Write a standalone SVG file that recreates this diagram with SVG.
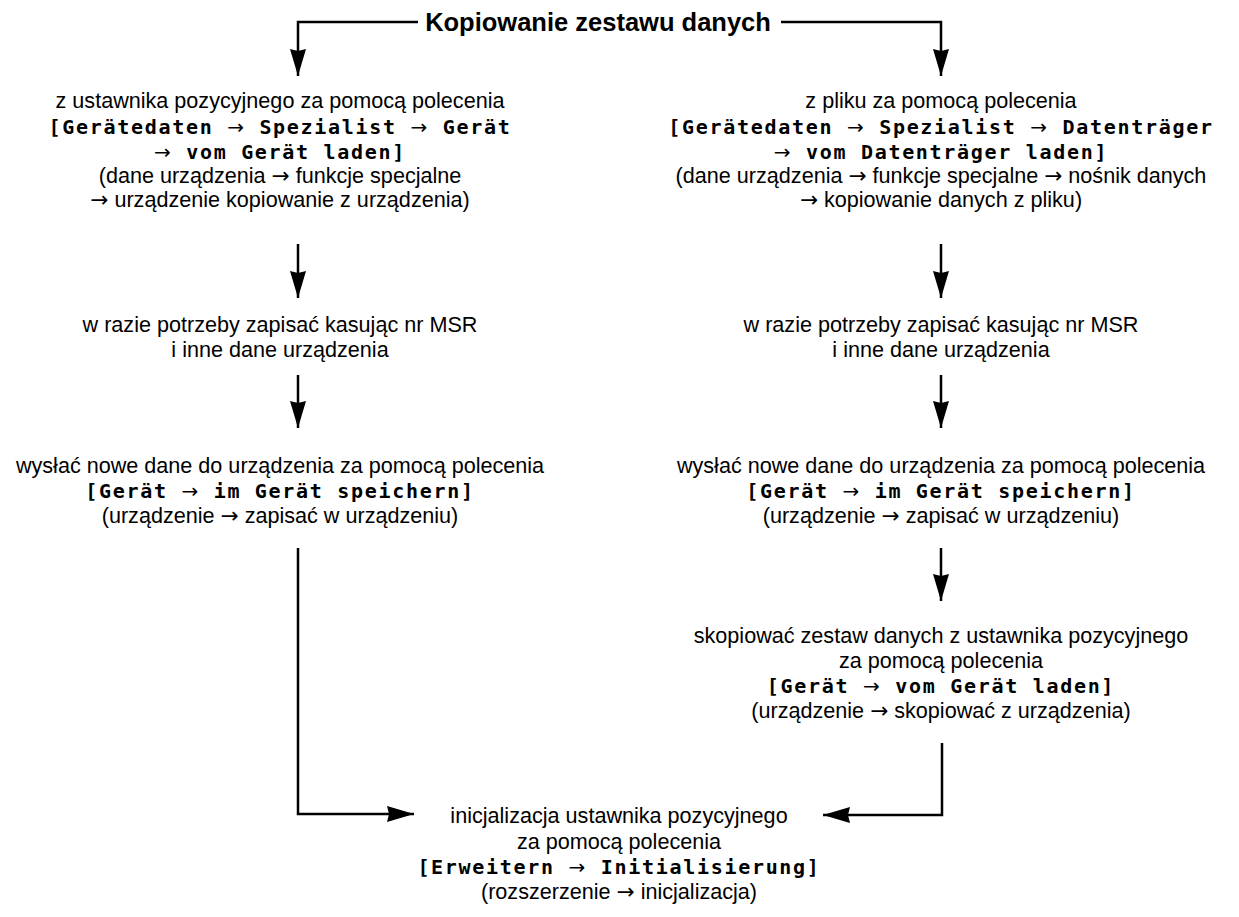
<svg xmlns="http://www.w3.org/2000/svg" width="1239" height="917" viewBox="0 0 1239 917">
<style>
.t{font-family:"Liberation Sans",Arial,sans-serif;font-size:21.6px;fill:#000;text-anchor:middle}
.b{font-family:"Liberation Sans",Arial,sans-serif;font-size:25.5px;font-weight:bold;fill:#000;text-anchor:middle}
.m{font-family:"DejaVu Sans Mono","Liberation Mono",monospace;font-size:20px;font-weight:bold;letter-spacing:1.7px;fill:#000;text-anchor:middle}
.a{font-family:"DejaVu Sans",sans-serif;font-weight:normal}
.c{fill:none;stroke:#000;stroke-width:2.5}
</style>
<defs>
<marker id="ah" markerWidth="27" markerHeight="18" refX="27" refY="9" orient="auto" markerUnits="userSpaceOnUse">
<path d="M0,1 L27,9 L0,17 L2,9 Z" fill="#000"/>
</marker>
</defs>
<rect width="1239" height="917" fill="#fff"/>
<g id="connectors">
<path class="c" d="M418,22 H298 V76" marker-end="url(#ah)"/>
<path class="c" d="M781,22 H941 V76" marker-end="url(#ah)"/>
<path class="c" d="M298,244 V298" marker-end="url(#ah)"/>
<path class="c" d="M941,244 V298" marker-end="url(#ah)"/>
<path class="c" d="M298,375 V428" marker-end="url(#ah)"/>
<path class="c" d="M941,375 V428" marker-end="url(#ah)"/>
<path class="c" d="M941,548 V601" marker-end="url(#ah)"/>
<path class="c" d="M298,548 V814 H414" marker-end="url(#ah)"/>
<path class="c" d="M942,743 V815 H823" marker-end="url(#ah)"/>
</g>
<g id="title">
<text class="b" x="598" y="31">Kopiowanie zestawu danych</text>
</g>
<g id="left1">
<text class="t" x="280" y="108">z ustawnika pozycyjnego za pomocą polecenia</text>
<text class="m" x="280" y="134">[Gerätedaten <tspan class="a">→</tspan> Spezialist <tspan class="a">→</tspan> Gerät</text>
<text class="m" x="280" y="159"><tspan class="a">→</tspan> vom Gerät laden]</text>
<text class="t" x="280" y="183">(dane urządzenia <tspan class="a">→</tspan> funkcje specjalne</text>
<text class="t" x="280" y="207"><tspan class="a">→</tspan> urządzenie kopiowanie z urządzenia)</text>
</g>
<g id="right1">
<text class="t" x="941" y="108">z pliku za pomocą polecenia</text>
<text class="m" x="941" y="134">[Gerätedaten <tspan class="a">→</tspan> Spezialist <tspan class="a">→</tspan> Datenträger</text>
<text class="m" x="941" y="159"><tspan class="a">→</tspan> vom Datenträger laden]</text>
<text class="t" x="941" y="183">(dane urządzenia <tspan class="a">→</tspan> funkcje specjalne <tspan class="a">→</tspan> nośnik danych</text>
<text class="t" x="941" y="207"><tspan class="a">→</tspan> kopiowanie danych z pliku)</text>
</g>
<g id="left2">
<text class="t" x="280" y="332">w razie potrzeby zapisać kasując nr MSR</text>
<text class="t" x="280" y="357">i inne dane urządzenia</text>
</g>
<g id="right2">
<text class="t" x="941" y="332">w razie potrzeby zapisać kasując nr MSR</text>
<text class="t" x="941" y="357">i inne dane urządzenia</text>
</g>
<g id="left3">
<text class="t" x="280" y="473">wysłać nowe dane do urządzenia za pomocą polecenia</text>
<text class="m" x="280" y="498">[Gerät <tspan class="a">→</tspan> im Gerät speichern]</text>
<text class="t" x="280" y="523">(urządzenie <tspan class="a">→</tspan> zapisać w urządzeniu)</text>
</g>
<g id="right3">
<text class="t" x="941" y="473">wysłać nowe dane do urządzenia za pomocą polecenia</text>
<text class="m" x="941" y="498">[Gerät <tspan class="a">→</tspan> im Gerät speichern]</text>
<text class="t" x="941" y="523">(urządzenie <tspan class="a">→</tspan> zapisać w urządzeniu)</text>
</g>
<g id="right4">
<text class="t" x="941" y="643">skopiować zestaw danych z ustawnika pozycyjnego</text>
<text class="t" x="941" y="668">za pomocą polecenia</text>
<text class="m" x="941" y="693">[Gerät <tspan class="a">→</tspan> vom Gerät laden]</text>
<text class="t" x="941" y="718">(urządzenie <tspan class="a">→</tspan> skopiować z urządzenia)</text>
</g>
<g id="bottom">
<text class="t" x="619" y="823">inicjalizacja ustawnika pozycyjnego</text>
<text class="t" x="619" y="849">za pomocą polecenia</text>
<text class="m" x="619" y="874">[Erweitern <tspan class="a">→</tspan> Initialisierung]</text>
<text class="t" x="619" y="899">(rozszerzenie <tspan class="a">→</tspan> inicjalizacja)</text>
</g>
</svg>
